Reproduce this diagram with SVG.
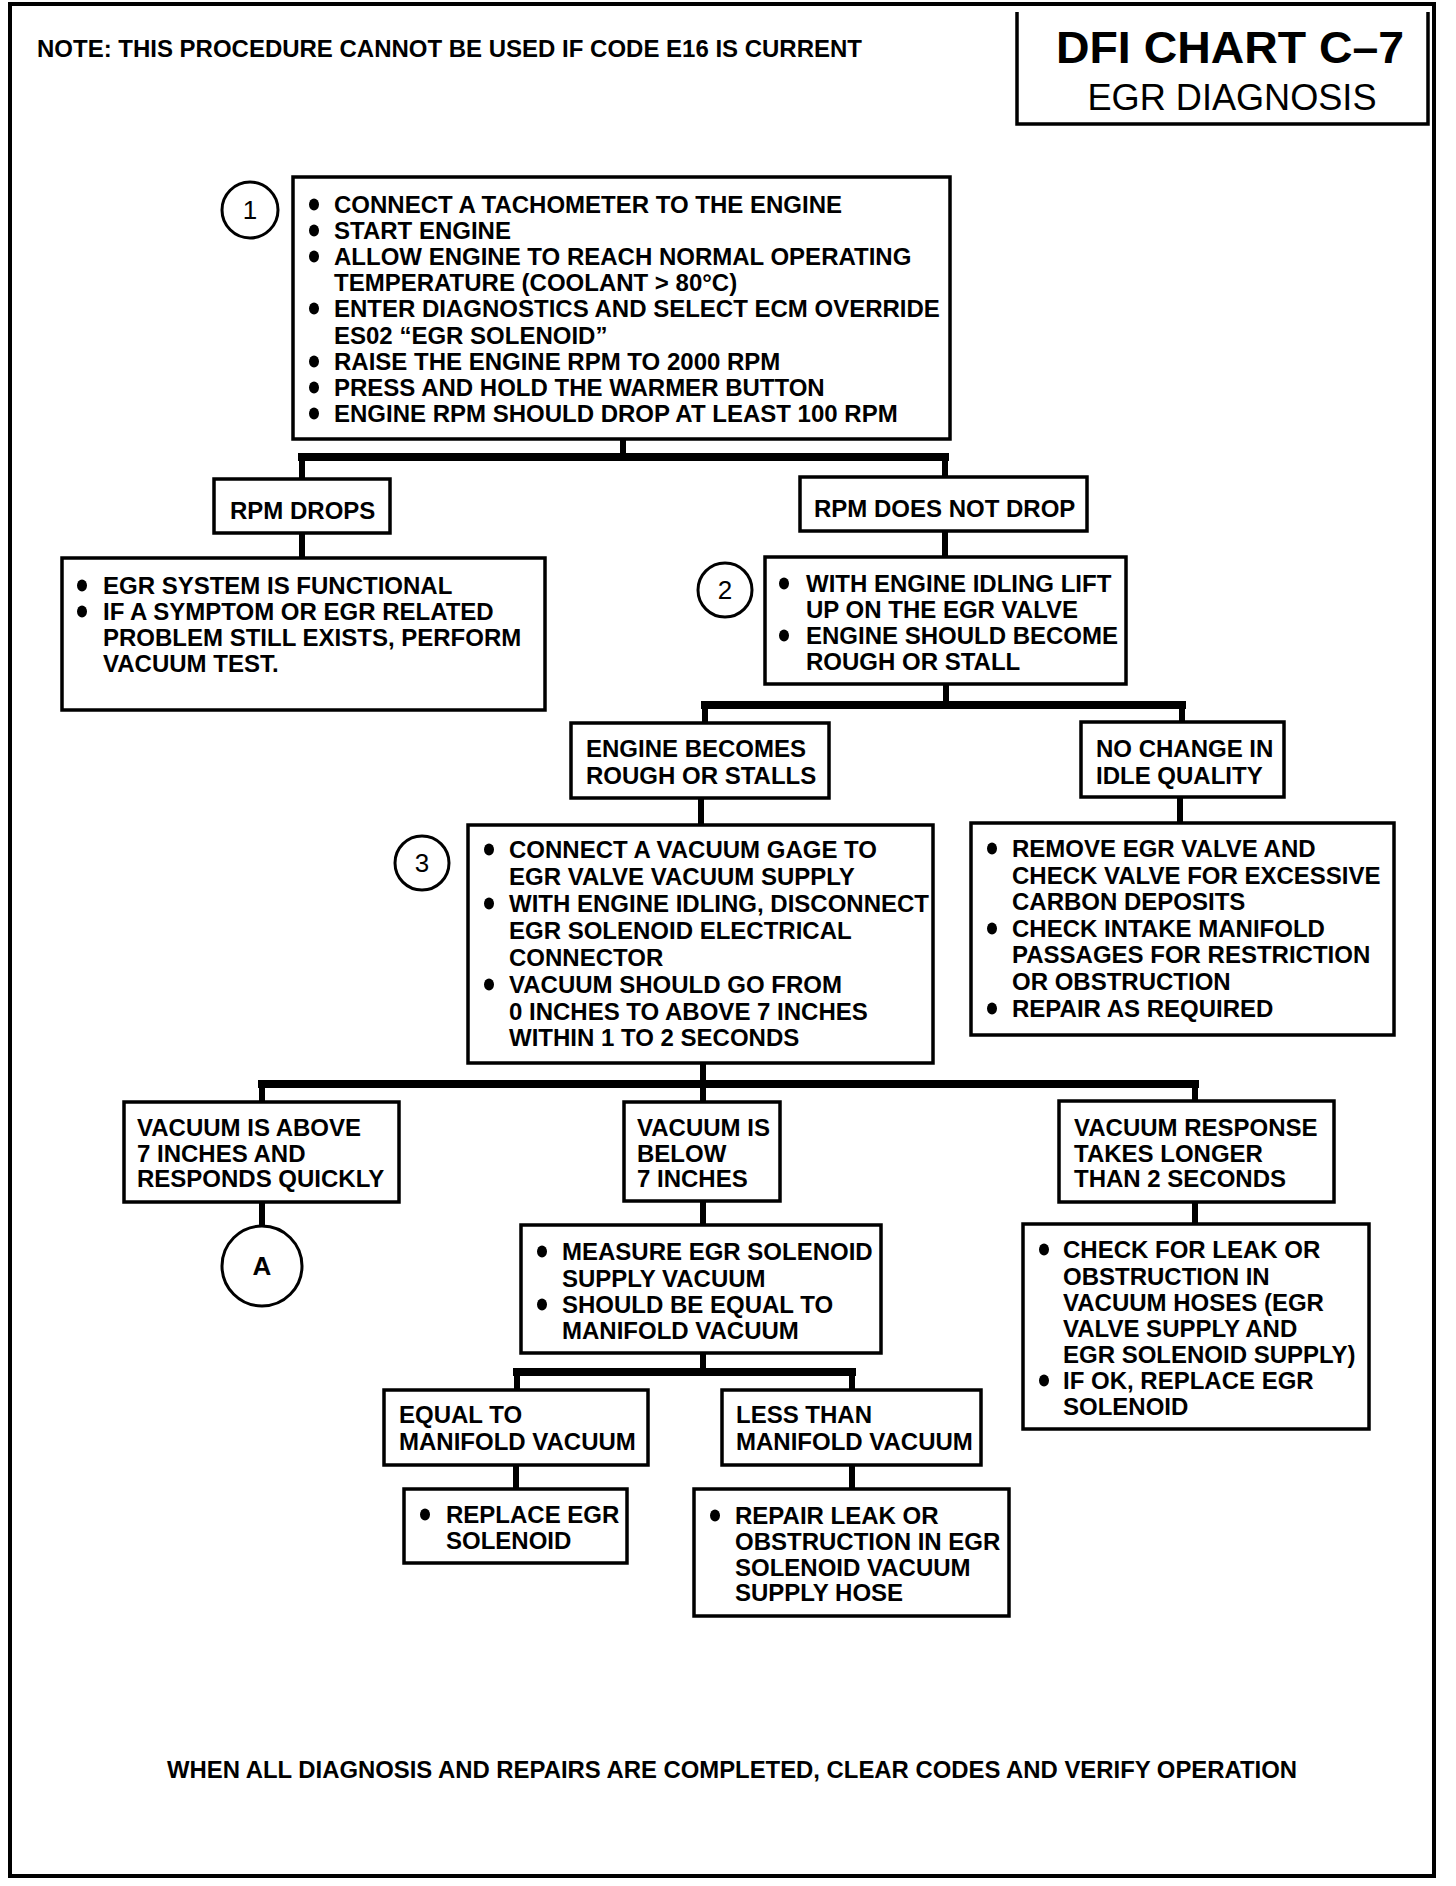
<svg xmlns="http://www.w3.org/2000/svg" width="1456" height="1886" viewBox="0 0 1456 1886">
<style>
.box{fill:#fff;stroke:#000;stroke-width:3.5}
.t{font-family:"Liberation Sans",Arial,sans-serif;font-weight:bold;font-size:24px;fill:#000}
.n{font-family:"Liberation Sans",Arial,sans-serif;font-size:26px;fill:#000;text-anchor:middle}
.v{stroke:#000;stroke-width:6;fill:none}
.h{stroke:#000;stroke-width:8;fill:none}
.c{fill:#fff;stroke:#000;stroke-width:3}
</style>
<defs>
<ellipse id="dot" cx="0" cy="-8.5" rx="5" ry="6" fill="#000"/>
</defs>
<rect width="1456" height="1886" fill="#fff"/>
<rect x="10" y="4" width="1424" height="1872" fill="none" stroke="#000" stroke-width="4"/>

<g id="title">
<path d="M1017,12 V124 H1428 V12" fill="none" stroke="#000" stroke-width="3.5"/>
<text x="1230" y="63" text-anchor="middle" font-family="Liberation Sans,Arial,sans-serif" font-weight="bold" font-size="44" textLength="348" lengthAdjust="spacingAndGlyphs">DFI CHART C–7</text>
<text x="1232" y="110" text-anchor="middle" font-family="Liberation Sans,Arial,sans-serif" font-size="37" textLength="289" lengthAdjust="spacingAndGlyphs">EGR DIAGNOSIS</text>
</g>
<g id="note"><text class="t" x="37" y="57" textLength="825" lengthAdjust="spacingAndGlyphs">NOTE: THIS PROCEDURE CANNOT BE USED IF CODE E16 IS CURRENT</text></g>

<g id="connectors">
<path class="v" d="M623,437 V457 M302,457 V479 M945,457 V478"/>
<path class="h" d="M298,457 H949"/>
<path class="v" d="M302,533 V558 M945,531 V557"/>
<path class="v" d="M946,684 V705 M705,705 V723 M1182,705 V722"/>
<path class="h" d="M701,705 H1186"/>
<path class="v" d="M701,798 V825 M1180,797 V823"/>
<path class="v" d="M703,1063 V1084 M262,1084 V1102 M703,1084 V1102 M1195,1084 V1101"/>
<path class="h" d="M258,1084 H1199"/>
<path class="v" d="M262,1202 V1226 M703,1201 V1225 M1195,1202 V1224"/>
<path class="v" d="M703,1353 V1372 M517,1372 V1390 M852,1372 V1390"/>
<path class="h" d="M513,1372 H856"/>
<path class="v" d="M516,1465 V1489 M852,1465 V1489"/>
</g>

<g id="step1">
<circle class="c" cx="250" cy="210" r="28"/>
<text class="n" x="250" y="219">1</text>
</g>
<g id="box1">
<rect class="box" x="293" y="177" width="657" height="262"/>
<use href="#dot" x="314" y="213"/><text class="t" x="334" y="213">CONNECT A TACHOMETER TO THE ENGINE</text>
<use href="#dot" x="314" y="239"/><text class="t" x="334" y="239">START ENGINE</text>
<use href="#dot" x="314" y="265"/><text class="t" x="334" y="265">ALLOW ENGINE TO REACH NORMAL OPERATING</text>
<text class="t" x="334" y="291">TEMPERATURE (COOLANT &gt; 80°C)</text>
<use href="#dot" x="314" y="317"/><text class="t" x="334" y="317">ENTER DIAGNOSTICS AND SELECT ECM OVERRIDE</text>
<text class="t" x="334" y="344">ES02 “EGR SOLENOID”</text>
<use href="#dot" x="314" y="370"/><text class="t" x="334" y="370">RAISE THE ENGINE RPM TO 2000 RPM</text>
<use href="#dot" x="314" y="396"/><text class="t" x="334" y="396">PRESS AND HOLD THE WARMER BUTTON</text>
<use href="#dot" x="314" y="422"/><text class="t" x="334" y="422">ENGINE RPM SHOULD DROP AT LEAST 100 RPM</text>
</g>

<g id="rpm-drops">
<rect class="box" x="214" y="479" width="176" height="54"/>
<text class="t" x="230" y="519">RPM DROPS</text>
</g>
<g id="egr-functional">
<rect class="box" x="62" y="558" width="483" height="152"/>
<use href="#dot" x="82" y="594"/><text class="t" x="103" y="594">EGR SYSTEM IS FUNCTIONAL</text>
<use href="#dot" x="82" y="620"/><text class="t" x="103" y="620">IF A SYMPTOM OR EGR RELATED</text>
<text class="t" x="103" y="646">PROBLEM STILL EXISTS, PERFORM</text>
<text class="t" x="103" y="672">VACUUM TEST.</text>
</g>

<g id="rpm-not-drop">
<rect class="box" x="800" y="477" width="287" height="54"/>
<text class="t" x="814" y="517">RPM DOES NOT DROP</text>
</g>
<g id="step2">
<circle class="c" cx="725" cy="590" r="27"/>
<text class="n" x="725" y="599">2</text>
</g>
<g id="box2">
<rect class="box" x="765" y="557" width="361" height="127"/>
<use href="#dot" x="784" y="592"/><text class="t" x="806" y="592">WITH ENGINE IDLING LIFT</text>
<text class="t" x="806" y="618">UP ON THE EGR VALVE</text>
<use href="#dot" x="784" y="644"/><text class="t" x="806" y="644">ENGINE SHOULD BECOME</text>
<text class="t" x="806" y="670">ROUGH OR STALL</text>
</g>

<g id="rough">
<rect class="box" x="571" y="723" width="258" height="75"/>
<text class="t" x="586" y="757">ENGINE BECOMES</text>
<text class="t" x="586" y="784">ROUGH OR STALLS</text>
</g>
<g id="no-change">
<rect class="box" x="1081" y="722" width="203" height="75"/>
<text class="t" x="1096" y="757">NO CHANGE IN</text>
<text class="t" x="1096" y="784">IDLE QUALITY</text>
</g>

<g id="step3">
<circle class="c" cx="422" cy="863" r="27"/>
<text class="n" x="422" y="872">3</text>
</g>
<g id="box3">
<rect class="box" x="468" y="825" width="465" height="238"/>
<use href="#dot" x="489" y="858"/><text class="t" x="509" y="858">CONNECT A VACUUM GAGE TO</text>
<text class="t" x="509" y="885">EGR VALVE VACUUM SUPPLY</text>
<use href="#dot" x="489" y="912"/><text class="t" x="509" y="912">WITH ENGINE IDLING, DISCONNECT</text>
<text class="t" x="509" y="939">EGR SOLENOID ELECTRICAL</text>
<text class="t" x="509" y="966">CONNECTOR</text>
<use href="#dot" x="489" y="993"/><text class="t" x="509" y="993">VACUUM SHOULD GO FROM</text>
<text class="t" x="509" y="1020">0 INCHES TO ABOVE 7 INCHES</text>
<text class="t" x="509" y="1046">WITHIN 1 TO 2 SECONDS</text>
</g>
<g id="box4">
<rect class="box" x="971" y="823" width="423" height="212"/>
<use href="#dot" x="992" y="857"/><text class="t" x="1012" y="857">REMOVE EGR VALVE AND</text>
<text class="t" x="1012" y="884">CHECK VALVE FOR EXCESSIVE</text>
<text class="t" x="1012" y="910">CARBON DEPOSITS</text>
<use href="#dot" x="992" y="937"/><text class="t" x="1012" y="937">CHECK INTAKE MANIFOLD</text>
<text class="t" x="1012" y="963">PASSAGES FOR RESTRICTION</text>
<text class="t" x="1012" y="990">OR OBSTRUCTION</text>
<use href="#dot" x="992" y="1017"/><text class="t" x="1012" y="1017">REPAIR AS REQUIRED</text>
</g>

<g id="above">
<rect class="box" x="124" y="1102" width="275" height="100"/>
<text class="t" x="137" y="1136">VACUUM IS ABOVE</text>
<text class="t" x="137" y="1162">7 INCHES AND</text>
<text class="t" x="137" y="1187">RESPONDS QUICKLY</text>
</g>
<g id="connector-a">
<circle class="c" cx="262" cy="1266" r="40"/>
<text class="n" x="262" y="1275" font-weight="bold">A</text>
</g>
<g id="below">
<rect class="box" x="624" y="1102" width="156" height="99"/>
<text class="t" x="637" y="1136">VACUUM IS</text>
<text class="t" x="637" y="1162">BELOW</text>
<text class="t" x="637" y="1187">7 INCHES</text>
</g>
<g id="response">
<rect class="box" x="1059" y="1101" width="275" height="101"/>
<text class="t" x="1074" y="1136">VACUUM RESPONSE</text>
<text class="t" x="1074" y="1162">TAKES LONGER</text>
<text class="t" x="1074" y="1187">THAN 2 SECONDS</text>
</g>
<g id="measure">
<rect class="box" x="521" y="1225" width="360" height="128"/>
<use href="#dot" x="542" y="1260"/><text class="t" x="562" y="1260">MEASURE EGR SOLENOID</text>
<text class="t" x="562" y="1287">SUPPLY VACUUM</text>
<use href="#dot" x="542" y="1313"/><text class="t" x="562" y="1313">SHOULD BE EQUAL TO</text>
<text class="t" x="562" y="1339">MANIFOLD VACUUM</text>
</g>
<g id="check-leak">
<rect class="box" x="1023" y="1224" width="346" height="205"/>
<use href="#dot" x="1044" y="1258"/><text class="t" x="1063" y="1258">CHECK FOR LEAK OR</text>
<text class="t" x="1063" y="1285">OBSTRUCTION IN</text>
<text class="t" x="1063" y="1311">VACUUM HOSES (EGR</text>
<text class="t" x="1063" y="1337">VALVE SUPPLY AND</text>
<text class="t" x="1063" y="1363">EGR SOLENOID SUPPLY)</text>
<use href="#dot" x="1044" y="1389"/><text class="t" x="1063" y="1389">IF OK, REPLACE EGR</text>
<text class="t" x="1063" y="1415">SOLENOID</text>
</g>
<g id="equal">
<rect class="box" x="384" y="1390" width="264" height="75"/>
<text class="t" x="399" y="1423">EQUAL TO</text>
<text class="t" x="399" y="1450">MANIFOLD VACUUM</text>
</g>
<g id="less">
<rect class="box" x="722" y="1390" width="259" height="75"/>
<text class="t" x="736" y="1423">LESS THAN</text>
<text class="t" x="736" y="1450">MANIFOLD VACUUM</text>
</g>
<g id="replace">
<rect class="box" x="404" y="1489" width="223" height="74"/>
<use href="#dot" x="425" y="1523"/><text class="t" x="446" y="1523">REPLACE EGR</text>
<text class="t" x="446" y="1549">SOLENOID</text>
</g>
<g id="repair">
<rect class="box" x="694" y="1489" width="315" height="127"/>
<use href="#dot" x="715" y="1524"/><text class="t" x="735" y="1524">REPAIR LEAK OR</text>
<text class="t" x="735" y="1550">OBSTRUCTION IN EGR</text>
<text class="t" x="735" y="1576">SOLENOID VACUUM</text>
<text class="t" x="735" y="1601">SUPPLY HOSE</text>
</g>
<g id="footer"><text class="t" x="167" y="1778" textLength="1130" lengthAdjust="spacingAndGlyphs">WHEN ALL DIAGNOSIS AND REPAIRS ARE COMPLETED, CLEAR CODES AND VERIFY OPERATION</text></g>
</svg>
